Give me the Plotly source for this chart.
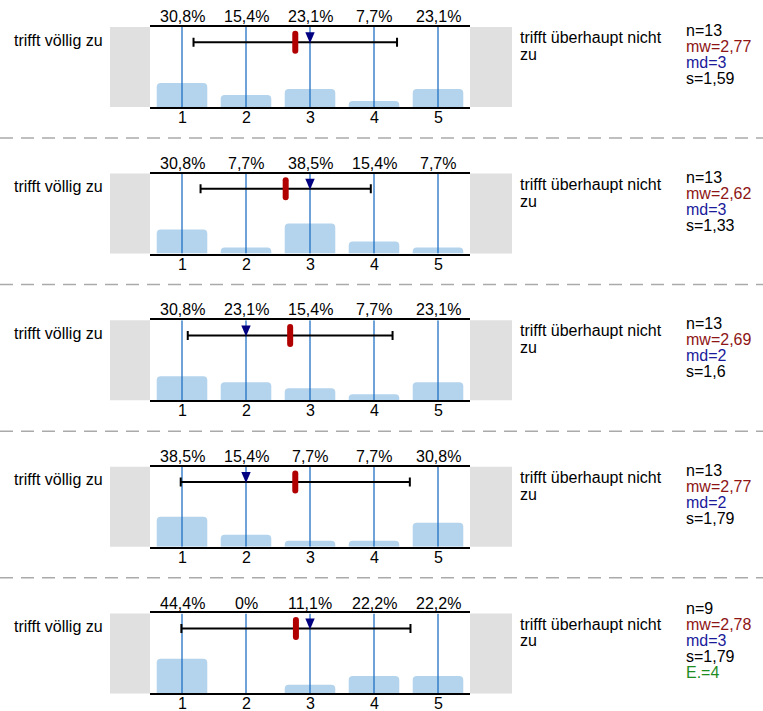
import plotly.graph_objects as go

# ---------------- data ----------------
categories = [1, 2, 3, 4, 5]
tick_labels = ["1", "2", "3", "4", "5"]
pct_1 = [30.8, 15.4, 23.1, 7.7, 23.1]
pct_2 = [30.8, 7.7, 38.5, 15.4, 7.7]
pct_3 = [30.8, 23.1, 15.4, 7.7, 23.1]
pct_4 = [38.5, 15.4, 7.7, 7.7, 30.8]
pct_5 = [44.4, 0.0, 11.1, 22.2, 22.2]
percents = [pct_1, pct_2, pct_3, pct_4, pct_5]
n_values = [13, 13, 13, 13, 9]
mean_values = [2.77, 2.62, 2.69, 2.77, 2.78]
median_values = [3, 3, 2, 2, 3]
sd_values = [1.59, 1.33, 1.6, 1.79, 1.79]
abstain_values = [None, None, None, None, 4]
left_label = "trifft völlig zu"
right_label_lines = ["trifft überhaupt nicht", "zu"]

# ---------------- layout constants ----------------
W, H = 763, 711
FONT = "Liberation Sans, Arial, sans-serif"
FS = 16
PLOT_L, PLOT_R = 150, 470
GRAY_L0, GRAY_R1 = 110, 512
TOP0, PANEL_H, STEP = 27, 80, 146.6
YMAX = 102.5
ERR_Y = 83
BAR_COLOR = "#b4d3ec"
VLINE_COLOR = "#2170c4"
GRAY = "#e0e0e0"


def fmt(v):
    return f"{v:g}".replace(".", ",")


fig = go.Figure()
shapes = []
annotations = []

for i, pct in enumerate(percents):
    k = i + 1
    xa = "x" if k == 1 else f"x{k}"
    ya = "y" if k == 1 else f"y{k}"
    top = TOP0 + STEP * i
    bot = top + PANEL_H
    dom_y = [1 - bot / H, 1 - top / H]

    fig.update_layout(**{
        ("xaxis" if k == 1 else f"xaxis{k}"): dict(
            domain=[PLOT_L / W, PLOT_R / W], range=[0.5, 5.5], anchor=ya,
            tickvals=categories, showticklabels=False,
            showline=True, mirror=True, linecolor="black", linewidth=2,
            showgrid=False, zeroline=False, ticks="", fixedrange=True),
        ("yaxis" if k == 1 else f"yaxis{k}"): dict(
            domain=dom_y, range=[0, YMAX], anchor=xa, visible=False,
            fixedrange=True),
    })

    # bars
    fig.add_trace(go.Bar(
        x=categories, y=pct, width=0.79, xaxis=xa, yaxis=ya,
        marker=dict(color=BAR_COLOR, line=dict(width=0), cornerradius=4),
        showlegend=False, hoverinfo="skip"))

    # vertical category lines
    vx, vy = [], []
    for c in categories:
        vx += [c, c, None]
        vy += [0, YMAX, None]
    fig.add_trace(go.Scatter(
        x=vx, y=vy, mode="lines", xaxis=xa, yaxis=ya,
        line=dict(color=VLINE_COLOR, width=1.3),
        showlegend=False, hoverinfo="skip"))

    # mean +- sd
    fig.add_trace(go.Scatter(
        x=[mean_values[i]], y=[ERR_Y], mode="markers", xaxis=xa, yaxis=ya,
        marker=dict(size=1, color="black"),
        error_x=dict(type="data", array=[sd_values[i]], symmetric=True,
                     color="black", thickness=2, width=4.5),
        showlegend=False, hoverinfo="skip"))

    # mean marker (red capsule)
    shapes.append(dict(
        type="path", xref=xa, yref=ya, xsizemode="pixel", ysizemode="pixel",
        xanchor=mean_values[i], yanchor=ERR_Y,
        path="M -3,-8.5 L -3,8.5 Q -3,11.5 0,11.5 Q 3,11.5 3,8.5 L 3,-8.5 "
             "Q 3,-11.5 0,-11.5 Q -3,-11.5 -3,-8.5 Z",
        fillcolor="#b00000", line=dict(width=0), layer="above"))
    # median marker (navy triangle)
    shapes.append(dict(
        type="path", xref=xa, yref=ya, xsizemode="pixel", ysizemode="pixel",
        xanchor=median_values[i], yanchor=ERR_Y,
        path="M -4.7,10 L 4.7,10 L 0,-1 Z",
        fillcolor="#000080", line=dict(width=0), layer="above"))

    # gray side boxes
    shapes.append(dict(type="rect", xref="paper", yref=f"{ya} domain",
                       x0=GRAY_L0 / W, x1=PLOT_L / W, y0=0, y1=1,
                       fillcolor=GRAY, line=dict(width=0), layer="below"))
    shapes.append(dict(type="rect", xref="paper", yref=f"{ya} domain",
                       x0=PLOT_R / W, x1=GRAY_R1 / W, y0=0, y1=1,
                       fillcolor=GRAY, line=dict(width=0), layer="below"))

    # percent labels above, category labels below
    for c, v, t in zip(categories, pct, tick_labels):
        annotations.append(dict(
            x=c, y=1, xref=xa, yref=f"{ya} domain", yanchor="middle",
            yshift=10.3, text=fmt(v) + "%", showarrow=False,
            font=dict(family=FONT, size=FS, color="black")))
        annotations.append(dict(
            x=c, y=0, xref=xa, yref=f"{ya} domain", yanchor="middle",
            yshift=-10.5, text=t, showarrow=False,
            font=dict(family=FONT, size=FS, color="black")))

    # left / right labels
    annotations.append(dict(
        x=12 / W, y=1 - (top + 13) / H, xref="paper", yref="paper",
        xanchor="left", yanchor="middle", text=left_label, showarrow=False,
        font=dict(family=FONT, size=FS, color="black")))
    for j, line in enumerate(right_label_lines):
        annotations.append(dict(
            x=518 / W, y=1 - (top + 10.8 + 16.6 * j) / H, xref="paper",
            yref="paper", xanchor="left", yanchor="middle", text=line,
            showarrow=False, font=dict(family=FONT, size=FS, color="black")))

    # stats
    stats = [("n=" + str(n_values[i]), "black"),
             ("mw=" + fmt(mean_values[i]), "#8e1515"),
             ("md=" + fmt(median_values[i]), "#1a1a9a"),
             ("s=" + fmt(sd_values[i]), "black")]
    if abstain_values[i] is not None:
        stats.append(("E.=" + fmt(abstain_values[i]), "#1e8c1e"))
    m = len(stats)
    for j, (txt, col) in enumerate(stats):
        yc = top + 27.5 - (m - 1) / 2 * 16 + 16 * j
        annotations.append(dict(
            x=684 / W, y=1 - yc / H, xref="paper", yref="paper",
            xanchor="left", yanchor="middle", text=txt, showarrow=False,
            font=dict(family=FONT, size=FS, color=col)))

    # dashed separator below panel
    if i < len(percents) - 1:
        ysep = TOP0 + STEP * (i + 1) - 35.6
        shapes.append(dict(type="line", xref="paper", yref="paper",
                           x0=0, x1=1, y0=1 - ysep / H, y1=1 - ysep / H,
                           line=dict(color="#aaaaaa", width=1.5,
                                     dash="13px,8px")))

fig.update_layout(
    width=W, height=H, margin=dict(l=0, r=0, t=0, b=0),
    paper_bgcolor="white", plot_bgcolor="rgba(0,0,0,0)",
    shapes=shapes, annotations=annotations, barmode="overlay",
    font=dict(family=FONT, size=FS, color="black"),
)

fig.write_html("out.html", config={"displayModeBar": False},
               post_script="document.body.style.margin='0';")
